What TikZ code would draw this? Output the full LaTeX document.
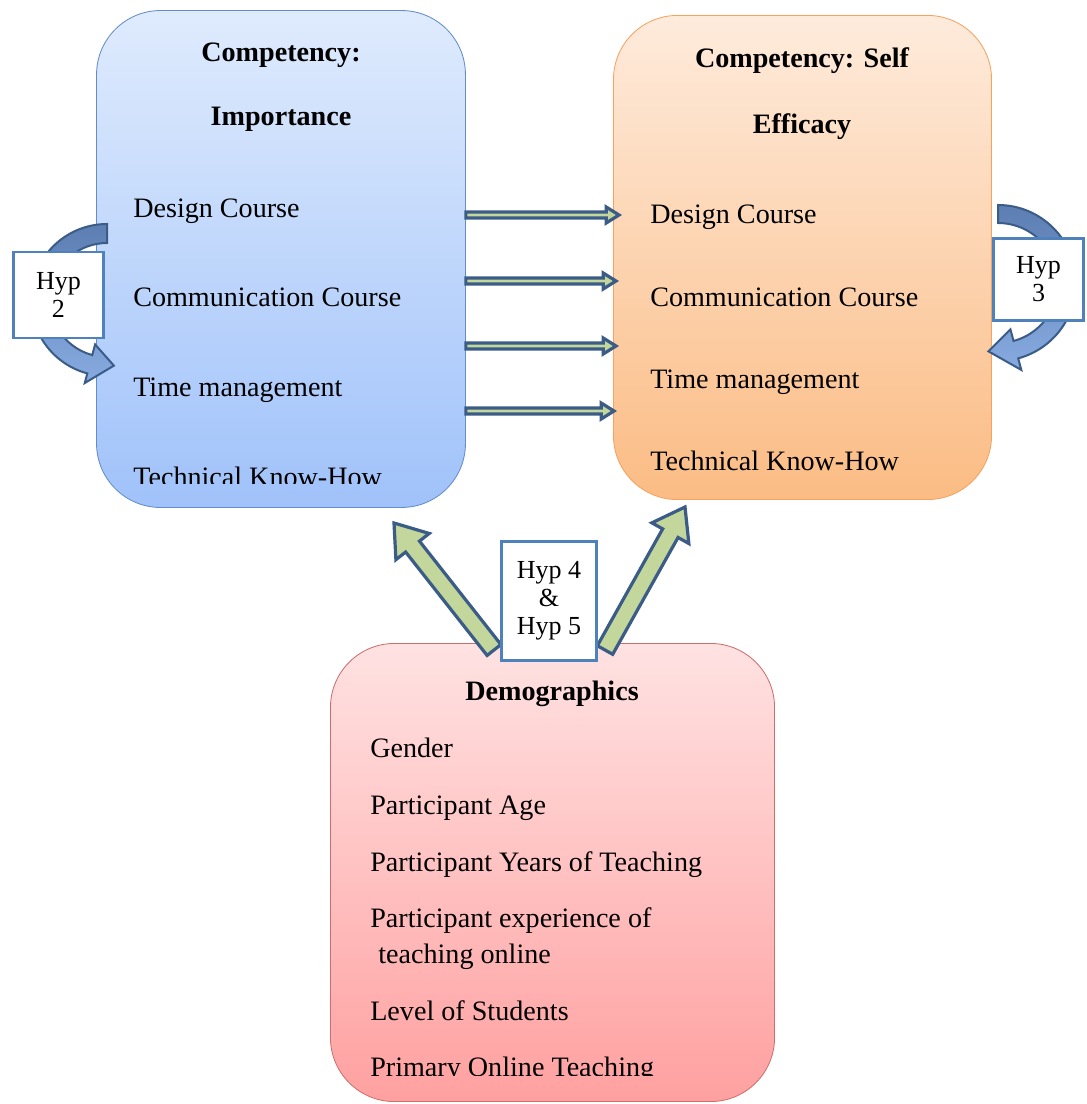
\documentclass[tikz,border=0pt]{standalone}
\usepackage{fontspec}
\setmainfont{Liberation Serif}
\usetikzlibrary{calc}

\definecolor{impTop}{RGB}{223,235,253}
\definecolor{impBottom}{RGB}{160,194,250}
\definecolor{impLine}{RGB}{100,140,200}
\definecolor{effTop}{RGB}{254,235,220}
\definecolor{effBottom}{RGB}{251,188,132}
\definecolor{effLine}{RGB}{247,162,95}
\definecolor{demoTop}{RGB}{255,226,226}
\definecolor{demoBottom}{RGB}{255,160,160}
\definecolor{demoLine}{RGB}{205,110,110}
\definecolor{hypBlue}{RGB}{79,129,189}
\definecolor{arrowLine}{RGB}{58,92,135}
\definecolor{arrowGreen}{RGB}{195,214,155}
\definecolor{curveTop}{RGB}{92,126,178}
\definecolor{curveBottom}{RGB}{135,170,224}

\newcommand{\itemfont}{\fontsize{20}{24}\selectfont}
\newcommand{\hdfont}{\bfseries\fontsize{20}{24}\selectfont}
\newcommand{\hypfont}{\fontsize{18.5}{20}\selectfont}

% block arrow: [style]{from}{to}{half shaft}{half head}{head length}
\newcommand{\blockarrow}[6][]{%
  \coordinate (ba base) at ($(#3)!#6!(#2)$);
  \path[#1] ($(#2)!#4!90:(#3)$) -- ($(ba base)!#4!90:(#3)$)
    -- ($(ba base)!#5!90:(#3)$) -- (#3) -- ($(ba base)!#5!-90:(#3)$)
    -- ($(ba base)!#4!-90:(#3)$) -- ($(#2)!#4!-90:(#3)$) -- cycle;}

\tikzset{
  panel/.style={draw, line width=0.6pt, rounded corners=1.6cm, inner sep=0pt},
  item/.style={anchor=base west, inner sep=0pt, font=\itemfont},
  head/.style={anchor=base, inner sep=0pt, font=\hdfont},
  hyp/.style={draw=hypBlue, line width=0.07cm, fill=white, align=center,
    inner sep=0pt, font=\hypfont},
  flat arrow/.style={draw=arrowLine, line width=0.08cm, fill=arrowGreen, line join=miter},
  curve arrow/.style={draw=arrowLine, line width=0.05cm, top color=curveTop,
    bottom color=curveBottom},
}

\begin{document}
\begin{tikzpicture}[x=0.025cm, y=-0.025cm]
\useasboundingbox (0,0) rectangle (1086,1104);

% the three panels
\node[panel, draw=impLine, top color=impTop, bottom color=impBottom,
  minimum width=9.22cm, minimum height=12.42cm] (imp) at (281,259) {};
\node[panel, draw=effLine, top color=effTop, bottom color=effBottom,
  minimum width=9.45cm, minimum height=12.1cm] (eff) at (802.5,257.5) {};
\node[panel, draw=demoLine, top color=demoTop, bottom color=demoBottom,
  minimum width=11.1cm, minimum height=11.45cm] (demo) at (552.5,872.5) {};

% Importance
\node[head] (impHead1) at (281,62) {Competency:};
\node[head] (impHead2) at (281,126) {Importance};
\node[item] (imp1) at (133,217) {Design Course};
\node[item] (imp2) at (133,306) {Communication Course};
\node[item] (imp3) at (133,396) {Time management};
\begin{scope}
  \clip (96,10) rectangle (466,483);
  \node[item] (imp4) at (133,486) {Technical Know-How};
\end{scope}

% Self efficacy
\node[head] (effHead1) at (802,68) {Competency: Self};
\node[head] (effHead2) at (802,134) {Efficacy};
\node[item] (eff1) at (650,223) {Design Course};
\node[item] (eff2) at (650,306) {Communication Course};
\node[item] (eff3) at (650,388) {Time management};
\node[item] (eff4) at (650,470) {Technical Know-How};

% Demographics
\node[head] (demoHead) at (552,700) {Demographics};
\node[item] (demo1) at (370,757) {Gender};
\node[item] (demo2) at (370,814) {Participant Age};
\node[item] (demo3) at (370,871) {Participant Years of Teaching};
\node[item] (demo4) at (370,927) {Participant experience of};
\node[item] (demo5) at (378,963) {teaching online};
\node[item] (demo6) at (370,1020) {Level of Students};
\begin{scope}
  \clip (330,643) rectangle (775,1075);
  \node[item] (demo7) at (370,1076) {Primary Online Teaching};
\end{scope}

% arrows between the competencies
\foreach \n/\y/\t in {1/215/619,2/281/616,3/346/616,4/411/614}{
  \coordinate (from\n) at (imp.east |- 0,\y);
  \coordinate (to\n) at (\t,\y);
  \blockarrow[flat arrow]{from\n}{to\n}{0.075cm}{0.2cm}{0.32cm}
}

% demographics arrows
\coordinate (demoL) at (494,650);
\coordinate (impTip) at (394,523);
\coordinate (demoR) at (605,650);
\coordinate (effTip) at (685,507);
\blockarrow[flat arrow]{demoL}{impTip}{0.22cm}{0.53cm}{0.75cm}
\blockarrow[flat arrow]{demoR}{effTip}{0.22cm}{0.53cm}{0.75cm}

% curved arrows
\coordinate (c2) at (107,300);
\path[curve arrow] ($(c2)+(270:76)$) arc[start angle=270, end angle=105, radius=76]
  -- ($(c2)+(105:86)$) -- ($(c2)+(84:66)$) -- ($(c2)+(105:46)$) -- ($(c2)+(105:57)$)
  arc[start angle=105, end angle=270, radius=57] -- cycle;
\coordinate (c3) at (998,283);
\path[curve arrow] ($(c3)+(270:78)$) arc[start angle=270, end angle=435, radius=78]
  -- ($(c3)+(75:90)$) -- ($(c3)+(98:69)$) -- ($(c3)+(75:48)$) -- ($(c3)+(75:60)$)
  arc[start angle=435, end angle=270, radius=60] -- cycle;

% hypothesis labels
\node[hyp, minimum width=2.25cm, minimum height=2.15cm] (hyp2) at (58.5,295) {Hyp\\2};
\node[hyp, minimum width=2.25cm, minimum height=2.05cm] (hyp3) at (1038.5,279.5) {Hyp\\3};
\node[hyp, minimum width=2.38cm, minimum height=2.98cm] (hyp45) at (549,601) {Hyp 4\\\&\\Hyp 5};
\end{tikzpicture}
\end{document}
